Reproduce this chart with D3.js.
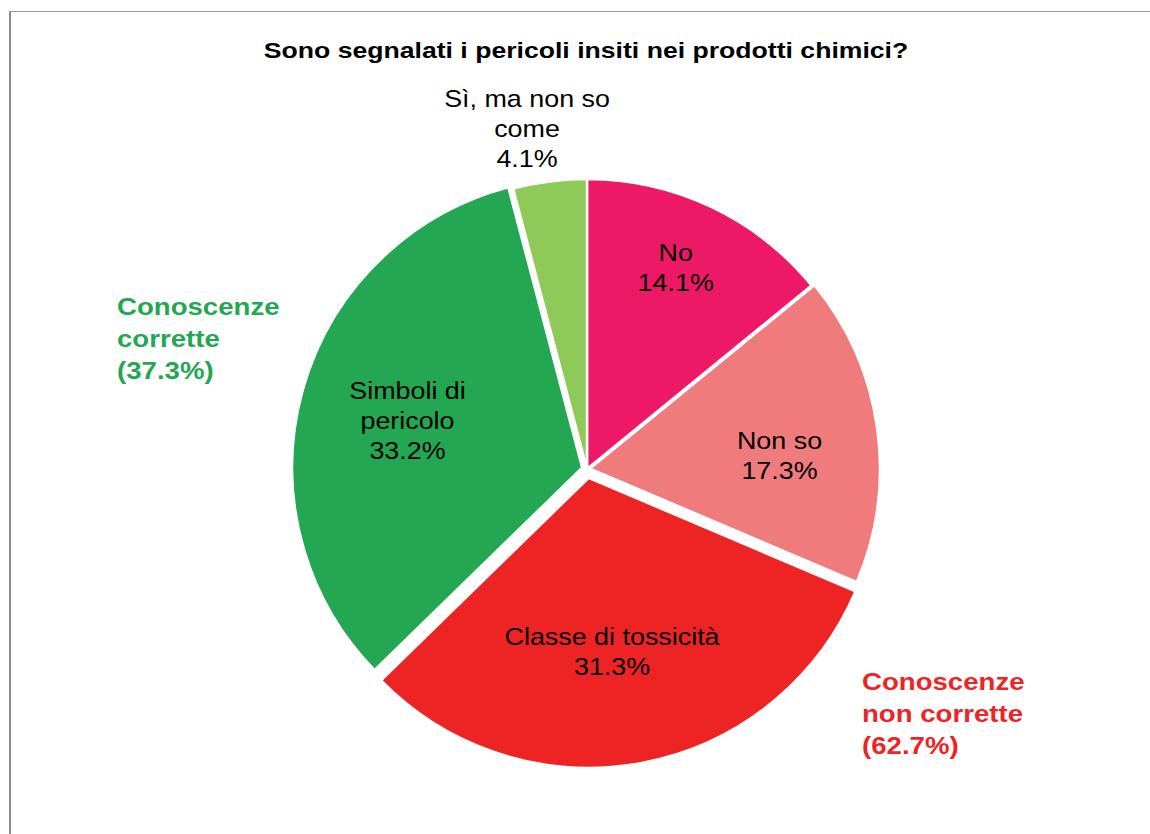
<!DOCTYPE html>
<html><head><meta charset="utf-8">
<script src="https://cdn.jsdelivr.net/npm/d3@7"></script>
<style>body{margin:0;background:#fff}svg{display:block}text{font-family:"Liberation Sans",Arial,sans-serif}</style>
</head><body><svg id="c" width="1150" height="834"></svg>
<script>
const categories = ["No", "Non so", "Classe di tossicità", "Simboli di pericolo", "Sì, ma non so come"];
const labelLines = [["No"], ["Non so"], ["Classe di tossicità"], ["Simboli di", "pericolo"], ["Sì, ma non so", "come"]];
const values = [14.1, 17.3, 31.3, 33.2, 4.1];
const colors = ["#ED1966", "#F07B7C", "#EE2424", "#23A752", "#8FC957"];
const title = "Sono segnalati i pericoli insiti nei prodotti chimici?";
const groupLabels = [
  {lines: ["Conoscenze", "corrette", "(37.3%)"], color: "#23A752"},
  {lines: ["Conoscenze", "non corrette", "(62.7%)"], color: "#EE2424"}
];

// layout
const cx = 587, cy = 469, R = 290;
const explode = [0, 3, 9, 5, 0];
const labelRad = [220, 193, 184, 186, 346];
const labelNudge = [-1.6, 4, 2.8, -0.3, -2.6]; // degrees
const SX = 1.12, FS = 24, LH = 30;

const svg = d3.select("#c");
// frame
svg.append("line").attr("x1", 10).attr("x2", 10).attr("y1", 11).attr("y2", 834).attr("stroke", "#8a8a8a").attr("stroke-width", 2);
svg.append("line").attr("x1", 9).attr("x2", 1150).attr("y1", 11.5).attr("y2", 11.5).attr("stroke", "#999").attr("stroke-width", 1);

function textBlock(g, x, y, lines, opts) {
  const n = lines.length;
  const t = g.append("g").attr("transform", `translate(${x},${y}) scale(${opts.sx || SX},1)`);
  lines.forEach((l, i) => {
    t.append("text")
      .attr("x", 0)
      .attr("y", (i - (n - 1) / 2) * opts.lh + opts.fs * 0.36)
      .attr("text-anchor", opts.anchor || "middle")
      .attr("font-size", opts.fs)
      .attr("font-weight", opts.weight || "normal")
      .attr("fill", opts.color || "#000")
      .text(l);
  });
}

textBlock(svg, 586, 50, [title], {fs: 22, lh: 24, weight: "bold", sx: 1.21});

const pie = d3.pie().sort(null).value(d => d);
const arcs = pie(values);
const arc = d3.arc().innerRadius(0).outerRadius(R);
const g = svg.append("g").attr("transform", `translate(${cx},${cy})`);

arcs.forEach((a, i) => {
  const mid = (a.startAngle + a.endAngle) / 2;
  const dx = Math.sin(mid) * explode[i], dy = -Math.cos(mid) * explode[i];
  g.append("path").attr("d", arc(a))
    .attr("transform", `translate(${dx},${dy})`)
    .attr("fill", colors[i]).attr("stroke", "#fff").attr("stroke-width", 2.5).attr("stroke-linejoin", "round");
});
arcs.forEach((a, i) => {
  const mid = (a.startAngle + a.endAngle) / 2 + labelNudge[i] * Math.PI / 180;
  const lx = Math.sin(mid) * labelRad[i], ly = -Math.cos(mid) * labelRad[i];
  textBlock(g, lx, ly, labelLines[i].concat([values[i].toFixed(1) + "%"]), {fs: FS, lh: LH});
});

textBlock(svg, 117, 338, groupLabels[0].lines, {fs: 24, lh: 32, weight: "bold", anchor: "start", color: groupLabels[0].color, sx: 1.15});
textBlock(svg, 862, 713, groupLabels[1].lines, {fs: 24, lh: 32, weight: "bold", anchor: "start", color: groupLabels[1].color, sx: 1.15});
</script></body></html>
